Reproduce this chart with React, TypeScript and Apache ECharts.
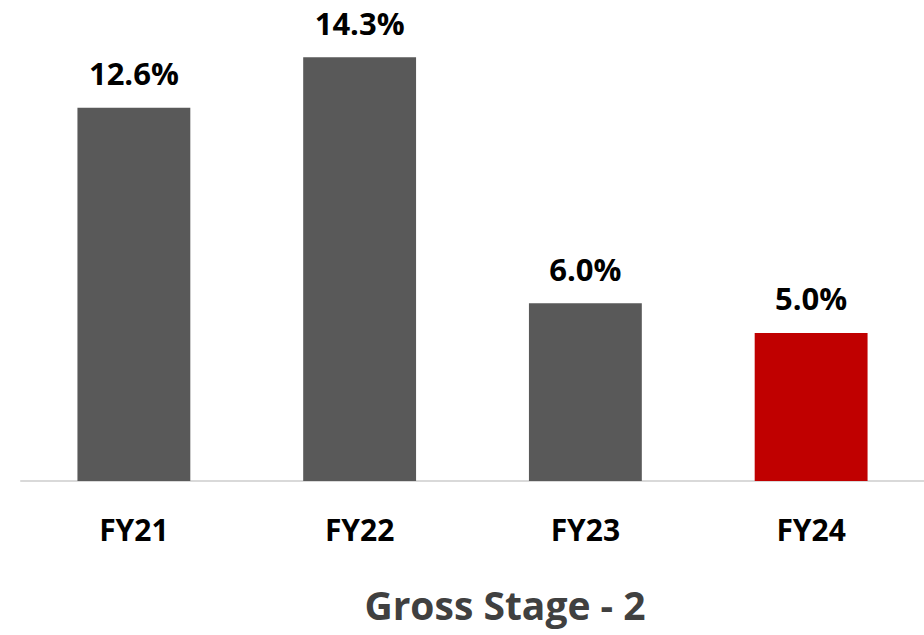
import React, { useEffect, useRef } from "react";
import * as echarts from "echarts";

const categories = ["FY21", "FY22", "FY23", "FY24"];
const values = [12.6, 14.3, 6.0, 5.0];
const valueLabels = ["12.6%", "14.3%", "6.0%", "5.0%"];
const barColors = ["#595959", "#595959", "#595959", "#c00000"];
const chartTitle = "Gross Stage - 2";

export default function App() {
  const ref = useRef<HTMLDivElement>(null);
  useEffect(() => {
    if (!ref.current) return;
    const chart = echarts.init(ref.current, null, { renderer: "svg" });
    const font = "'Open Sans', 'DejaVu Sans', sans-serif";
    chart.setOption({
      animation: false,
      backgroundColor: "#ffffff",
      grid: { left: 21, right: 0, top: 7, bottom: 154 },
      xAxis: {
        type: "category",
        data: categories,
        axisLine: { show: true, lineStyle: { color: "#d9d9d9", width: 2 } },
        axisTick: { show: false },
        axisLabel: {
          margin: 33,
          fontSize: 30,
          fontWeight: "bold",
          color: "#000000",
          fontFamily: font,
        },
      },
      yAxis: {
        type: "value",
        min: 0,
        max: 16,
        show: false,
        splitLine: { show: false },
      },
      series: [
        {
          type: "bar",
          barWidth: "50%",
          data: values.map((v, i) => ({
            value: v,
            itemStyle: { color: barColors[i] },
          })),
          label: {
            show: true,
            position: "top",
            distance: 19,
            fontSize: 31,
            fontWeight: "bold",
            color: "#000000",
            fontFamily: font,
            formatter: (p: any) => valueLabels[p.dataIndex],
          },
        },
      ],
      graphic: [
        {
          type: "text",
          x: 505,
          y: 604,
          style: {
            text: chartTitle,
            fontSize: 39,
            fontWeight: "bold",
            fontFamily: font,
            fill: "#404040",
            textAlign: "center",
            textVerticalAlign: "middle",
          },
        },
      ],
    });
    return () => chart.dispose();
  }, []);
  return (
    <div
      ref={ref}
      style={{ position: "fixed", left: 0, top: 0, width: 924, height: 635 }}
    />
  );
}
